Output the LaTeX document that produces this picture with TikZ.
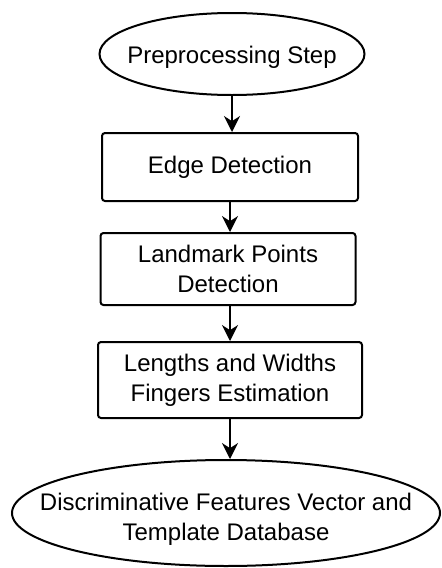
\documentclass[tikz,border=0pt]{standalone}
\usepackage{fontspec}
\setmainfont{Liberation Sans}
\usetikzlibrary{
    arrows.meta,      % For arrow tips
    shapes.geometric  % For the ellipse nodes
}

\begin{document}
\begin{tikzpicture}[
    x=0.5pt, y=-0.5pt, % one unit per pixel, y grows downward
    >={Stealth[length=8pt, width=8pt]}, % Default arrow tip
    txt/.style={font=\fontsize{12pt}{15pt}\selectfont, align=center, inner sep=0pt},
    stepbox/.style={txt, draw, line width=1pt, rounded corners=1.5pt}, % Process boxes
    terminal/.style={draw, ellipse, line width=1pt, inner sep=0pt}, % Start and end ellipses
    flow/.style={->, line width=0.8pt} % Connectors
]

    % Fix the page to the full drawing area
    \useasboundingbox (0,0) rectangle (441,568);

    % Start ellipse (text as a centre label, so the ellipse keeps its size)
    \node[terminal, minimum width=132.5pt, minimum height=41pt,
          label={[txt, yshift=-1.5pt]center:Preprocessing Step}] (prep) at (232,54) {};

    % Process boxes
    \node[stepbox, minimum width=128pt, minimum height=34pt] (edge) at (230,167) {Edge Detection};
    \node[stepbox, minimum width=127.5pt, minimum height=36pt] (landmark) at (228,269)
        {Landmark Points\\Detection};
    \node[stepbox, minimum width=132pt, minimum height=38pt] (lengths) at (230,380)
        {Lengths and Widths\\Fingers Estimation};

    % End ellipse, text runs over its border
    \node[terminal, minimum width=214pt, minimum height=53pt,
          label={[txt, yshift=-3pt]center:Discriminative Features Vector and\\Template Database}]
          (db) at (226,513) {};

    % Connectors, kept vertical
    \draw[flow] (prep.south) -- (prep.south |- edge.north);
    \draw[flow] (edge.south) -- (edge.south |- landmark.north);
    \draw[flow] (edge.south |- landmark.south) -- (edge.south |- lengths.north);
    \draw[flow] (lengths.south) -- (lengths.south |- db.north);

\end{tikzpicture}
\end{document}
